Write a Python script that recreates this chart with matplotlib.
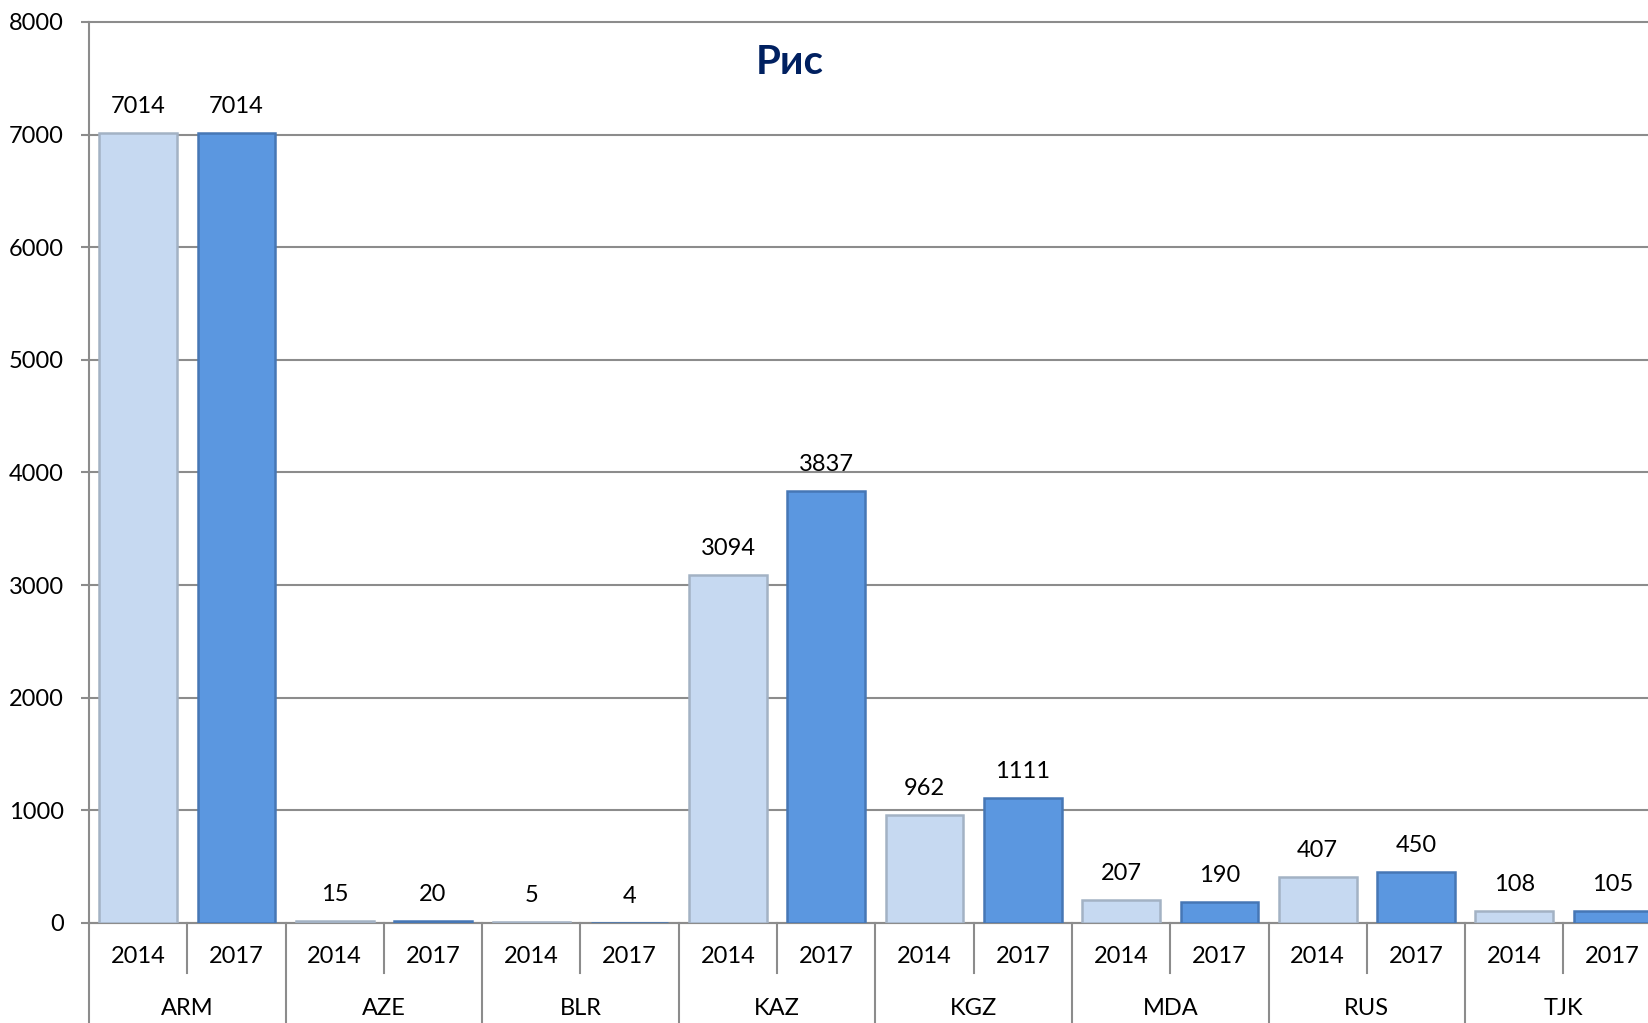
import matplotlib.pyplot as plt
import matplotlib.transforms as mtransforms
import numpy as np

countries = ["ARM", "AZE", "BLR", "KAZ", "KGZ", "MDA", "RUS", "TJK"]
years = ["2014", "2017"]
values_2014 = [7014, 15, 5, 3094, 962, 207, 407, 108]
values_2017 = [7014, 20, 4, 3837, 1111, 190, 450, 105]
yticks = [0, 1000, 2000, 3000, 4000, 5000, 6000, 7000, 8000]

plt.rcParams["font.family"] = ["Lato", "DejaVu Sans"]

GRID = "#8c8c8c"
LIGHT = "#c6d9f1"
DARK = "#5b97e0"

fig = plt.figure(figsize=(16.48, 10.23), dpi=100)
ax = fig.add_axes([0.054, 0.0978, 0.946, 0.8807])

n = len(countries)
x14 = np.arange(n) * 2
x17 = x14 + 1
width = 0.79

ax.bar(x14, values_2014, width, color=LIGHT, edgecolor="#a3b2c4", linewidth=1.8, zorder=3)
ax.bar(x17, values_2017, width, color=DARK, edgecolor="#4677b5", linewidth=1.8, zorder=3)

for xs, vals in [(x14, values_2014), (x17, values_2017)]:
    for x, v in zip(xs, vals):
        ax.annotate(str(v), (x, v), textcoords="offset points", xytext=(0, 19),
                    ha="center", va="center", fontsize=17, color="black")

ax.set_ylim(0, 8000)
ax.set_xlim(-0.5, 15.36)
ax.set_yticks(yticks)
ax.set_yticklabels([str(t) for t in yticks], fontsize=17)
ax.set_xticks([])
ax.tick_params(axis="y", length=6, width=1.5, color=GRID, pad=12, direction="out")
ax.grid(axis="y", color=GRID, linewidth=1.5, zorder=0)
for gl in ax.get_ygridlines():
    gl.set_clip_on(False)

for side in ["top", "right"]:
    ax.spines[side].set_visible(False)
for side in ["left", "bottom"]:
    ax.spines[side].set_color(GRID)
    ax.spines[side].set_linewidth(1.5)

# two-level category axis
trans = mtransforms.blended_transform_factory(ax.transData, ax.transAxes)
for i, c in enumerate(countries):
    for j, yr in enumerate(years):
        ax.text(2 * i + j, -0.0377, yr, transform=trans, ha="center", va="center", fontsize=17)
    ax.text(2 * i + 0.5, -0.0955, c, transform=trans, ha="center", va="center", fontsize=17)
    ax.plot([2 * i + 0.5, 2 * i + 0.5], [0, -0.0555], transform=trans,
            color=GRID, linewidth=1.5, clip_on=False)
    ax.plot([2 * i - 0.5, 2 * i - 0.5], [0, -0.12], transform=trans,
            color=GRID, linewidth=1.5, clip_on=False)

fig.text(0.479, 0.939, "Рис", ha="center", va="center", fontsize=29,
         fontweight="bold", color="#002060")

fig.savefig("out.png", dpi=100)
